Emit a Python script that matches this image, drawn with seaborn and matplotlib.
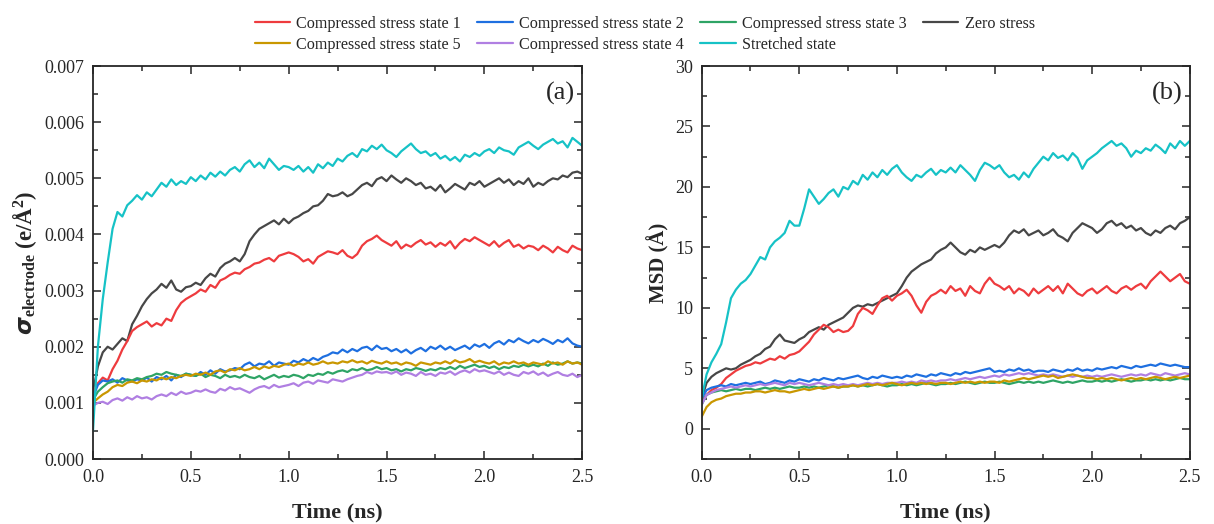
import numpy as np
import pandas as pd
import matplotlib
matplotlib.use("Agg")
import matplotlib.pyplot as plt
from matplotlib.ticker import MultipleLocator
import seaborn as sns

# ---------------- data ----------------
time_ns = np.round(np.arange(101) * 0.025, 3)

labels = ["Compressed stress state 1", "Compressed stress state 2", "Compressed stress state 3",
          "Zero stress", "Compressed stress state 5", "Compressed stress state 4", "Stretched state"]
colors = {"Compressed stress state 1": "#EE3B3E", "Compressed stress state 2": "#1E6FE0",
          "Compressed stress state 3": "#2EA465", "Zero stress": "#474747",
          "Compressed stress state 5": "#C99700", "Compressed stress state 4": "#B07FE2",
          "Stretched state": "#16C2C6"}

# panel (a): sigma_electrode in units of 1e-5 e/A^2
sig_cs1 = [120, 135, 145, 140, 160, 175, 195, 210, 228, 235,
           240, 245, 236, 242, 238, 250, 246, 265, 278, 285,
           290, 295, 302, 298, 310, 305, 318, 322, 328, 332,
           330, 338, 342, 348, 350, 355, 358, 352, 362, 365,
           368, 365, 360, 352, 356, 348, 360, 365, 370, 368,
           365, 372, 362, 358, 365, 380, 388, 392, 398, 390,
           385, 380, 388, 375, 382, 378, 385, 390, 382, 386,
           378, 385, 380, 388, 375, 385, 392, 388, 395, 390,
           385, 380, 388, 378, 385, 390, 378, 382, 375, 380,
           378, 372, 380, 375, 368, 378, 372, 368, 380, 375, 372]
sig_cs2 = [110, 132, 140, 138, 142, 136, 144, 140, 138, 142,
           140, 145, 138, 146, 142, 148, 140, 150, 146, 152,
           150, 148, 155, 150, 158, 152, 160, 156, 158, 162,
           160, 168, 172, 165, 170, 168, 174, 166, 172, 170,
           168, 175, 172, 178, 174, 180, 176, 182, 185, 190,
           188, 195, 190, 196, 192, 198, 200, 194, 202, 196,
           198, 192, 196, 190, 195, 188, 194, 198, 192, 200,
           196, 202, 195, 200, 194, 198, 202, 196, 204, 200,
           205, 198, 206, 210, 204, 212, 208, 215, 210, 206,
           212, 208, 214, 210, 205, 212, 208, 215, 206, 202, 200]
sig_cs3 = [105, 120, 128, 135, 138, 140, 136, 142, 140, 144,
           142, 146, 148, 152, 150, 155, 152, 150, 148, 152,
           150, 148, 152, 146, 150, 148, 144, 150, 146, 148,
           145, 150, 146, 144, 148, 142, 146, 150, 145, 148,
           146, 150, 148, 144, 150, 148, 152, 150, 155, 152,
           156, 158, 155, 160, 158, 162, 158, 160, 164, 160,
           162, 158, 160, 156, 160, 158, 162, 160, 157, 160,
           158, 162, 160, 164, 160, 166, 162, 165, 168, 164,
           166, 162, 165, 160, 164, 162, 166, 164, 168, 165,
           168, 165, 170, 166, 172, 168, 170, 174, 170, 172, 170]
sig_zero = [120, 165, 190, 200, 195, 205, 215, 210, 240, 255,
            272, 285, 295, 302, 312, 305, 318, 302, 298, 306,
            308, 314, 310, 322, 330, 325, 340, 348, 352, 358,
            352, 365, 388, 400, 410, 415, 420, 425, 418, 428,
            420, 428, 432, 438, 442, 450, 452, 460, 472, 468,
            470, 475, 468, 472, 480, 488, 492, 486, 498, 502,
            495, 505, 498, 492, 500, 495, 488, 492, 482, 485,
            478, 488, 475, 482, 490, 485, 480, 492, 488, 495,
            485, 490, 495, 500, 492, 498, 488, 495, 490, 500,
            485, 492, 488, 495, 500, 498, 505, 502, 510, 512, 508]
sig_cs5 = [100, 108, 115, 120, 128, 132, 130, 136, 138, 135,
           140, 138, 142, 140, 145, 142, 146, 144, 148, 150,
           148, 152, 150, 154, 150, 156, 158, 154, 160, 158,
           162, 158, 160, 164, 160, 165, 162, 166, 164, 168,
           170, 166, 170, 168, 172, 168, 170, 174, 170, 172,
           170, 174, 172, 176, 172, 174, 170, 175, 172, 170,
           174, 170, 172, 168, 172, 170, 166, 172, 170, 168,
           172, 170, 174, 170, 176, 172, 174, 178, 172, 175,
           172, 170, 174, 168, 172, 170, 174, 170, 172, 168,
           172, 170, 168, 174, 170, 172, 168, 174, 170, 172, 168]
sig_cs4 = [95, 100, 102, 98, 105, 108, 104, 110, 106, 112,
           108, 110, 106, 112, 115, 112, 118, 114, 120, 116,
           118, 122, 120, 124, 120, 118, 125, 122, 128, 124,
           126, 122, 118, 124, 128, 130, 126, 132, 128, 130,
           132, 135, 130, 136, 138, 134, 140, 138, 136, 142,
           140, 138, 142, 145, 148, 150, 155, 152, 156, 154,
           155, 152, 156, 150, 154, 152, 148, 155, 150, 152,
           148, 154, 152, 156, 150, 155, 158, 154, 160, 156,
           158, 155, 152, 156, 150, 154, 150, 148, 155, 152,
           156, 150, 154, 148, 152, 155, 150, 148, 152, 146, 150]
sig_str = [50, 200, 285, 350, 410, 440, 432, 452, 460, 470,
           462, 475, 468, 480, 492, 485, 498, 488, 495, 490,
           502, 495, 505, 498, 510, 503, 512, 505, 515, 520,
           512, 525, 532, 520, 528, 518, 535, 525, 515, 522,
           520, 515, 522, 512, 520, 510, 525, 518, 528, 522,
           535, 530, 540, 545, 538, 552, 548, 558, 552, 560,
           550, 545, 538, 548, 555, 562, 552, 545, 548, 540,
           545, 535, 540, 532, 538, 530, 542, 538, 545, 540,
           548, 552, 545, 555, 550, 548, 542, 555, 560, 565,
           558, 552, 560, 565, 570, 562, 566, 555, 572, 565, 558]

# panel (b): MSD in units of 0.1 A
msd_cs1 = [23, 28, 32, 34, 37, 42, 45, 48, 50, 52,
           53, 55, 54, 56, 58, 57, 60, 58, 61, 62,
           64, 68, 72, 78, 82, 86, 84, 80, 82, 80,
           81, 85, 95, 100, 98, 95, 102, 108, 110, 106,
           110, 112, 115, 110, 102, 96, 105, 110, 112, 115,
           112, 118, 114, 116, 110, 118, 114, 112, 120, 125,
           120, 118, 115, 118, 112, 116, 114, 110, 116, 112,
           115, 118, 114, 118, 112, 120, 116, 112, 110, 114,
           116, 112, 115, 118, 114, 112, 116, 118, 115, 118,
           120, 116, 122, 126, 130, 126, 122, 125, 128, 122, 120]
msd_cs2 = [25, 32, 34, 35, 36, 35, 37, 36, 37, 38,
           37, 38, 39, 37, 38, 40, 39, 38, 40, 39,
           41, 40, 39, 41, 40, 42, 41, 40, 42, 41,
           42, 43, 44, 42, 41, 43, 42, 44, 43, 42,
           43, 42, 44, 43, 45, 44, 43, 45, 44, 46,
           45, 44, 46, 45, 47, 46, 47, 48, 49, 50,
           47, 48, 47, 49, 48, 50, 48, 49, 47, 48,
           48, 47, 49, 48, 47, 49, 48, 50, 48, 49,
           48, 50, 49, 50, 51, 50, 52, 51, 50, 52,
           51, 52, 53, 52, 54, 53, 52, 53, 52, 51, 51]
msd_cs3 = [20, 28, 30, 31, 32, 31, 32, 33, 32, 33,
           33, 32, 33, 34, 33, 34, 33, 34, 35, 34,
           34, 35, 34, 35, 34, 35, 36, 35, 34, 35,
           35, 36, 35, 36, 35, 36, 37, 36, 35, 36,
           36, 37, 36, 37, 36, 37, 38, 37, 36, 37,
           37, 38, 37, 38, 39, 38, 37, 38, 39, 38,
           38, 39, 38, 37, 38, 39, 38, 39, 38, 39,
           38, 39, 40, 39, 38, 39, 38, 39, 40, 39,
           39, 40, 39, 40, 39, 40, 41, 40, 39, 40,
           40, 41, 40, 41, 40, 41, 40, 41, 42, 41, 41]
msd_zero = [25, 38, 43, 46, 48, 50, 49, 50, 53, 55,
            57, 60, 62, 66, 68, 74, 78, 73, 72, 71,
            74, 76, 80, 82, 84, 82, 86, 88, 90, 92,
            96, 100, 102, 101, 103, 102, 104, 106, 108, 110,
            112, 118, 125, 130, 133, 136, 138, 140, 145, 148,
            150, 154, 150, 146, 144, 148, 146, 150, 148, 150,
            152, 150, 154, 160, 164, 162, 165, 160, 162, 164,
            160, 162, 165, 160, 158, 155, 162, 166, 170, 168,
            166, 162, 165, 170, 172, 168, 170, 166, 168, 164,
            166, 162, 160, 164, 162, 166, 168, 165, 170, 172, 175]
msd_cs5 = [10, 18, 22, 24, 25, 27, 28, 29, 29, 30,
           30, 31, 31, 30, 31, 32, 31, 31, 30, 31,
           32, 33, 32, 33, 34, 33, 34, 35, 34, 35,
           35, 36, 35, 36, 37, 36, 37, 36, 37, 38,
           37, 36, 37, 38, 37, 38, 37, 38, 37, 38,
           38, 37, 38, 39, 38, 39, 38, 39, 38, 39,
           39, 38, 40, 39, 40, 41, 42, 41, 42, 43,
           44, 43, 44, 42, 43, 44, 45, 44, 43, 42,
           42, 41, 42, 41, 42, 41, 40, 41, 42, 41,
           42, 41, 42, 43, 42, 41, 42, 43, 42, 43, 44]
msd_cs4 = [20, 28, 30, 32, 33, 34, 35, 34, 35, 36,
           35, 36, 37, 36, 37, 38, 37, 36, 38, 37,
           38, 37, 36, 37, 38, 37, 36, 37, 36, 37,
           36, 37, 36, 37, 38, 37, 38, 37, 38, 38,
           38, 39, 38, 39, 38, 40, 39, 40, 39, 40,
           40, 41, 40, 41, 42, 41, 42, 43, 42, 43,
           44, 43, 45, 44, 45, 46, 45, 46, 45, 44,
           45, 44, 45, 44, 43, 44, 43, 44, 43, 44,
           43, 44, 43, 44, 45, 44, 43, 44, 45, 44,
           45, 44, 46, 45, 44, 46, 45, 44, 45, 46, 45]
msd_str = [25, 45, 55, 62, 70, 88, 108, 115, 120, 123,
           128, 135, 142, 140, 150, 155, 158, 162, 172, 168,
           168, 182, 198, 192, 186, 190, 195, 198, 192, 200,
           198, 205, 202, 210, 206, 212, 208, 214, 210, 215,
           218, 212, 208, 205, 210, 208, 212, 215, 210, 214,
           212, 216, 212, 218, 214, 210, 205, 214, 220, 218,
           215, 218, 212, 208, 210, 206, 212, 208, 215, 220,
           225, 222, 228, 224, 226, 222, 228, 224, 215, 222,
           225, 228, 232, 235, 238, 234, 236, 232, 225, 230,
           228, 232, 230, 235, 232, 228, 236, 232, 238, 234, 238]

sigma_series = {"Compressed stress state 1": sig_cs1, "Compressed stress state 2": sig_cs2,
                "Compressed stress state 3": sig_cs3, "Zero stress": sig_zero,
                "Compressed stress state 5": sig_cs5, "Compressed stress state 4": sig_cs4,
                "Stretched state": sig_str}
msd_series = {"Compressed stress state 1": msd_cs1, "Compressed stress state 2": msd_cs2,
              "Compressed stress state 3": msd_cs3, "Zero stress": msd_zero,
              "Compressed stress state 5": msd_cs5, "Compressed stress state 4": msd_cs4,
              "Stretched state": msd_str}

# ---------------- style ----------------
sns.set_style("ticks")
plt.rcParams["font.family"] = ["Liberation Serif", "DejaVu Serif"]
plt.rcParams["mathtext.fontset"] = "custom"
plt.rcParams["mathtext.rm"] = "Liberation Serif"
plt.rcParams["mathtext.it"] = "Liberation Serif:italic"
plt.rcParams["mathtext.bf"] = "Liberation Serif:bold"

fig = plt.figure(figsize=(12.14, 5.24), dpi=100)
axA = fig.add_axes([0.0766, 0.124, 0.403, 0.750])
axB = fig.add_axes([0.578, 0.124, 0.402, 0.750])

draw_order = ["Zero stress", "Compressed stress state 1", "Compressed stress state 2",
              "Compressed stress state 3", "Compressed stress state 4",
              "Compressed stress state 5", "Stretched state"]

df_a = pd.DataFrame([(t, v * 1e-5, k) for k in draw_order for t, v in zip(time_ns, sigma_series[k])],
                    columns=["time", "value", "state"])
df_b = pd.DataFrame([(t, v * 0.1, k) for k in draw_order for t, v in zip(time_ns, msd_series[k])],
                    columns=["time", "value", "state"])

sns.lineplot(data=df_a, x="time", y="value", hue="state", hue_order=draw_order,
             palette=colors, ax=axA, linewidth=1.6, legend=True)
sns.lineplot(data=df_b, x="time", y="value", hue="state", hue_order=draw_order,
             palette=colors, ax=axB, linewidth=1.6, legend=False)

handles, labs = axA.get_legend_handles_labels()
axA.get_legend().remove()
hmap = dict(zip(labs, handles))

for ax in (axA, axB):
    ax.set_xlim(0, 2.5)
    ax.xaxis.set_major_locator(MultipleLocator(0.5))
    ax.xaxis.set_minor_locator(MultipleLocator(0.25))
    ax.tick_params(which="both", direction="in", top=True, right=True, labelsize=13, width=1.1)
    ax.tick_params(which="major", length=6)
    ax.tick_params(which="minor", length=3.5)
    ax.tick_params(axis="x", which="major", pad=7)
    ax.tick_params(axis="y", which="major", pad=6)
    for s in ax.spines.values():
        s.set_linewidth(1.3)
    ax.set_xlabel("Time (ns)", fontsize=16, fontweight="bold", labelpad=12)

axA.set_ylim(0, 0.007)
axA.yaxis.set_major_locator(MultipleLocator(0.001))
axA.yaxis.set_minor_locator(MultipleLocator(0.0005))
axA.yaxis.set_major_formatter(matplotlib.ticker.FormatStrFormatter("%.3f"))
axA.set_ylabel(r"$\boldsymbol{\sigma}_{\mathbf{electrode}}$ $\mathbf{(e/\AA^{2})}$", fontsize=16.5)

axB.set_ylim(-2.5, 30)
axB.yaxis.set_major_locator(MultipleLocator(5))
axB.yaxis.set_minor_locator(MultipleLocator(2.5))
axB.set_ylabel("MSD (Å)", fontsize=15, fontweight="bold")

axA.text(0.986, 0.93, "(a)", transform=axA.transAxes, ha="right", va="center", fontsize=19)
axB.text(0.986, 0.93, "(b)", transform=axB.transAxes, ha="right", va="center", fontsize=19)

leg_order = ["Compressed stress state 1", "Compressed stress state 5",
             "Compressed stress state 2", "Compressed stress state 4",
             "Compressed stress state 3", "Stretched state", "Zero stress"]
fig.legend([hmap[k] for k in leg_order], leg_order, ncol=4, loc="upper center",
           bbox_to_anchor=(0.531, 1.0), frameon=False, fontsize=11.6,
           handlelength=2.2, handletextpad=0.4, columnspacing=1.0, labelspacing=0.3,
           borderaxespad=0.6)

fig.savefig("out.png", dpi=100)
